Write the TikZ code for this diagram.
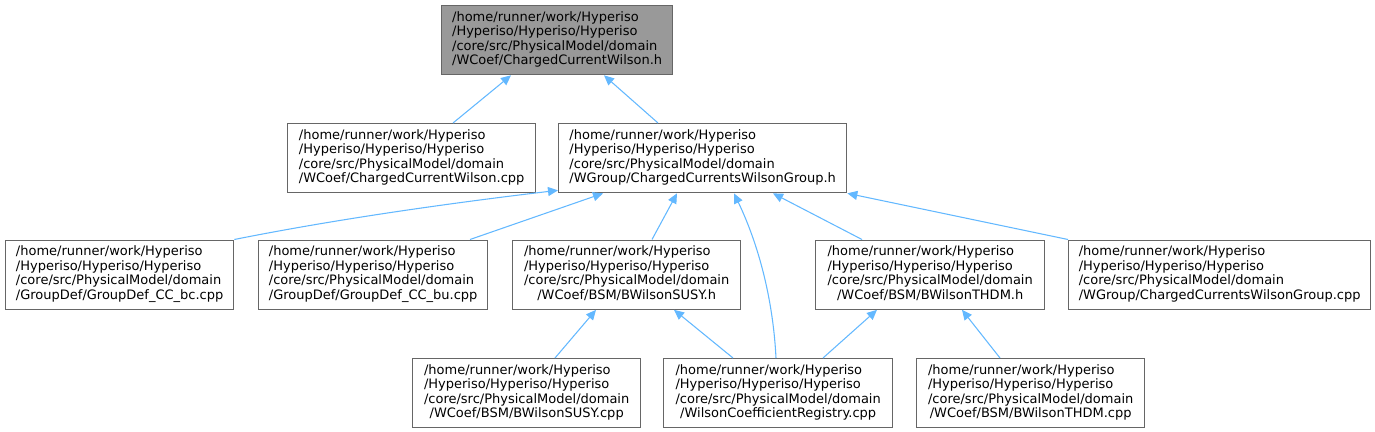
\documentclass[tikz,border=0pt]{standalone}
\usepackage{fontspec}
\setmainfont{DejaVu Sans}
\usetikzlibrary{arrows.meta,calc}
\definecolor{edgeblue}{HTML}{63B8FF}
\definecolor{boxgray}{HTML}{666666}
\definecolor{rootfill}{HTML}{999999}
\newcommand{\flines}[4]{\begin{tabular}{@{}l@{}}#1\\#2\\#3\\\multicolumn{1}{@{}c@{}}{#4}\end{tabular}}
\begin{document}
\begin{tikzpicture}[x=0.75pt,y=-0.75pt,
  filebox/.style={draw=boxgray,line width=1pt,fill=white,anchor=north west,inner sep=0pt,
    minimum height=51.75pt,font=\fontsize{9.75pt}{10.9pt}\selectfont},
  bw/.style={minimum width=#1*0.75pt},
  dep/.style={draw=edgeblue,line width=0.8pt,-{Triangle[length=7.5pt,width=6.8pt]}}]
\useasboundingbox (0,0) rectangle (1375,432);
\node[filebox,bw=231,fill=rootfill] (root) at (441,5) {\flines{/home/runner/work/Hyperiso}{/Hyperiso/Hyperiso/Hyperiso}{/core/src/PhysicalModel/domain}{/WCoef/ChargedCurrentWilson.h}};
\node[filebox,bw=248] (ccwcpp) at (287,123) {\flines{/home/runner/work/Hyperiso}{/Hyperiso/Hyperiso/Hyperiso}{/core/src/PhysicalModel/domain}{/WCoef/ChargedCurrentWilson.cpp}};
\node[filebox,bw=288] (ccwgh) at (558,123) {\flines{/home/runner/work/Hyperiso}{/Hyperiso/Hyperiso/Hyperiso}{/core/src/PhysicalModel/domain}{/WGroup/ChargedCurrentsWilsonGroup.h}};
\node[filebox,bw=228] (bc) at (5,239.5) {\flines{/home/runner/work/Hyperiso}{/Hyperiso/Hyperiso/Hyperiso}{/core/src/PhysicalModel/domain}{/GroupDef/GroupDef\_CC\_bc.cpp}};
\node[filebox,bw=229] (bu) at (258,239.5) {\flines{/home/runner/work/Hyperiso}{/Hyperiso/Hyperiso/Hyperiso}{/core/src/PhysicalModel/domain}{/GroupDef/GroupDef\_CC\_bu.cpp}};
\node[filebox,bw=228] (susyh) at (512,239.5) {\flines{/home/runner/work/Hyperiso}{/Hyperiso/Hyperiso/Hyperiso}{/core/src/PhysicalModel/domain}{/WCoef/BSM/BWilsonSUSY.h}};
\node[filebox,bw=229] (thdmh) at (815,239.5) {\flines{/home/runner/work/Hyperiso}{/Hyperiso/Hyperiso/Hyperiso}{/core/src/PhysicalModel/domain}{/WCoef/BSM/BWilsonTHDM.h}};
\node[filebox,bw=302] (ccwgcpp) at (1068,239.5) {\flines{/home/runner/work/Hyperiso}{/Hyperiso/Hyperiso/Hyperiso}{/core/src/PhysicalModel/domain}{/WGroup/ChargedCurrentsWilsonGroup.cpp}};
\node[filebox,bw=228] (susycpp) at (412,358) {\flines{/home/runner/work/Hyperiso}{/Hyperiso/Hyperiso/Hyperiso}{/core/src/PhysicalModel/domain}{/WCoef/BSM/BWilsonSUSY.cpp}};
\node[filebox,bw=229] (reg) at (663,358) {\flines{/home/runner/work/Hyperiso}{/Hyperiso/Hyperiso/Hyperiso}{/core/src/PhysicalModel/domain}{/WilsonCoefficientRegistry.cpp}};
\node[filebox,bw=228] (thdmcpp) at (916,358) {\flines{/home/runner/work/Hyperiso}{/Hyperiso/Hyperiso/Hyperiso}{/core/src/PhysicalModel/domain}{/WCoef/BSM/BWilsonTHDM.cpp}};
% connectors
\draw[dep] ($(ccwcpp.north west)+(166,0)$) -- ($(root.south west)+(70,0)$);
\draw[dep] ($(ccwgh.north west)+(100,0)$) -- ($(root.south west)+(163,0)$);
\draw[dep] (bc.north east) .. controls ($(bc.north east)+(100,-20)$) and ($(ccwgh.south west)+(-110,10)$) .. ($(ccwgh.south west)+(0,-3)$);
\draw[dep] ($(bu.north west)+(212,0)$) -- ($(ccwgh.south west)+(45,0)$);
\draw[dep] ($(susyh.north west)+(140,0)$) -- ($(ccwgh.south west)+(119,0)$);
\draw[dep] ($(reg.north west)+(113,0)$) .. controls ($(reg.north west)+(110,-60)$) and ($(ccwgh.south west)+(200,50)$) .. ($(ccwgh.south west)+(176,0)$);
\draw[dep] ($(thdmh.north west)+(47,0)$) -- ($(ccwgh.south west)+(215,0)$);
\draw[dep] (ccwgcpp.north west) -- (ccwgh.south east);
\draw[dep] ($(susycpp.north west)+(143,0)$) -- ($(susyh.south west)+(84,0)$);
\draw[dep] ($(reg.north west)+(70,0)$) -- ($(susyh.south west)+(162,0)$);
\draw[dep] ($(reg.north west)+(160,0)$) -- ($(thdmh.south west)+(62,0)$);
\draw[dep] ($(thdmcpp.north west)+(84,0)$) -- ($(thdmh.south west)+(147,0)$);
\end{tikzpicture}
\end{document}
